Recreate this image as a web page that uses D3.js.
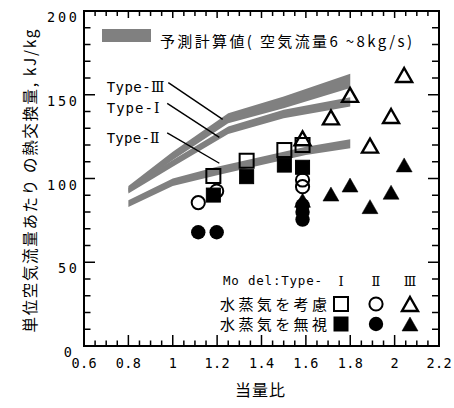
<!DOCTYPE html>
<html>
<head>
<meta charset="utf-8">
<script src="https://cdn.jsdelivr.net/npm/d3@7"></script>
<style>
  html, body { margin: 0; padding: 0; background: #fff; }
  svg { display: block; }
</style>
</head>
<body>
<svg id="chart" width="454" height="408"></svg>
<script>
// ---- data ----
const calcX = [0.8, 1.0, 1.25, 1.5, 1.8];
const calcIIIUpper = [95.5, 116, 139, 149, 162.5];
const calcIIILower = [92, 111, 133, 142, 154];
const calcIUpper = [94.5, 111, 131, 141, 148.5];
const calcILower = [91, 107, 126.5, 136, 143];
const calcIIx = [0.8, 1.0, 1.2, 1.4, 1.6, 1.8];
const calcIIUpper = [87, 100, 107, 113, 119, 123.5];
const calcIILower = [83, 95.5, 102, 108, 114, 118];

// Model Type-I (squares)
const typeIWithX = [1.183, 1.333, 1.503, 1.585];
const typeIWithY = [101.5, 110.6, 117, 120];
const typeIWithoutX = [1.183, 1.333, 1.503, 1.585];
const typeIWithoutY = [90.1, 101.1, 108, 106.7];
// Model Type-II (circles)
const typeIIWithX = [1.115, 1.198, 1.585, 1.585];
const typeIIWithY = [85.6, 92.5, 99.1, 95.1];
const typeIIWithoutX = [1.115, 1.198, 1.585, 1.585, 1.585];
const typeIIWithoutY = [67.9, 67.9, 84, 80, 75.5];
// Model Type-III (triangles)
const typeIIIWithX = [1.585, 1.713, 1.799, 1.889, 1.984, 2.043];
const typeIIIWithY = [124, 136.5, 149.9, 119.6, 137.3, 161.8];
const typeIIIWithoutX = [1.585, 1.713, 1.799, 1.889, 1.984, 2.043];
const typeIIIWithoutY = [87, 90.7, 96.1, 83.2, 91.8, 108.1];

const xTickValues = [0.6, 0.8, 1.0, 1.2, 1.4, 1.6, 1.8, 2.0, 2.2];
const xTickLabels = ["0.6", "0.8", "1", "1.2", "1.4", "1.6", "1.8", "2", "2.2"];
const yTickValues = [0, 50, 100, 150, 200];
const yTickLabels = ["0", "50", "100", "150", "200"];

const curvePrefix = "Type-";
const curveNumerals = ["Ⅲ", "Ⅰ", "Ⅱ"];
const curveLabelPos = [[0.702, 151.6], [0.702, 139.1], [0.702, 121.2]];
const leaderStart = [[0.98, 157.2], [0.975, 144.9], [0.975, 127.3]];
const leaderEnd = [[1.225, 135.3], [1.21, 124.6], [1.21, 109.1]];

const calcLegendText = "予測計算値( 空気流量6 ~8kg/s)";
const legendHeader = "Mo del:Type-";
const legendTypes = ["Ⅰ", "Ⅱ", "Ⅲ"];
const legendRows = ["水蒸気を考慮", "水蒸気を無視"];
const xTitle = "当量比";
const yTitle = "単位空気流量あたり の熱交換量, kJ/kg";

// ---- layout ----
const JP = "'Noto Sans CJK JP', sans-serif";
const MONO = "'DejaVu Sans Mono', monospace";
const ROMAN = "'DejaVu Serif', 'Liberation Serif', serif";
const GRAY = "#808080";
const plot = { left: 84, right: 439, top: 11, bottom: 346 };

const svg = d3.select("#chart");
const x = d3.scaleLinear().domain([0.6, 2.2]).range([plot.left, plot.right]);
const y = d3.scaleLinear().domain([0, 200]).range([plot.bottom, plot.top]);

// ---- computed bands ----
function band(xs, up, lo) {
  const pts = xs.map((v, i) => ({ x: v, up: up[i], lo: lo[i] }));
  return d3.area().x(d => x(d.x)).y0(d => y(d.lo)).y1(d => y(d.up))(pts);
}
const bandG = svg.append("g");
bandG.append("path").attr("d", band(calcIIx, calcIIUpper, calcIILower)).attr("fill", GRAY);
bandG.append("path").attr("d", band(calcX, calcIUpper, calcILower)).attr("fill", GRAY);
bandG.append("path").attr("d", band(calcX, calcIIIUpper, calcIIILower)).attr("fill", GRAY);

// ---- leader lines and curve labels ----
const ann = svg.append("g");
leaderStart.forEach((s, i) => {
  ann.append("line")
    .attr("x1", x(s[0])).attr("y1", y(s[1]))
    .attr("x2", x(leaderEnd[i][0])).attr("y2", y(leaderEnd[i][1]))
    .attr("stroke", "#000").attr("stroke-width", 1.4);
  const t = ann.append("text")
    .attr("x", x(curveLabelPos[i][0])).attr("y", y(curveLabelPos[i][1]))
    .attr("font-family", MONO).attr("font-size", 14)
    .attr("textLength", i === 0 ? 58 : 53).attr("lengthAdjust", "spacing");
  t.append("tspan").text(curvePrefix);
  t.append("tspan").attr("font-family", ROMAN).attr("font-size", 14).text(curveNumerals[i]);
});

// ---- markers ----
const mk = svg.append("g");
const SQ = 14, CR = 6.6, TW = 16, TH = 14;
function triPath(cx, cy) {
  return `M${cx},${cy - TH / 2}L${cx + TW / 2},${cy + TH / 2}L${cx - TW / 2},${cy + TH / 2}Z`;
}
function square(cx, cy, filled) {
  mk.append("rect")
    .attr("x", cx - SQ / 2).attr("y", cy - SQ / 2)
    .attr("width", SQ).attr("height", SQ)
    .attr("fill", filled ? "#000" : "none")
    .attr("stroke", "#000").attr("stroke-width", filled ? 1 : 2);
}
function circle(cx, cy, filled) {
  mk.append("circle").attr("cx", cx).attr("cy", cy).attr("r", filled ? CR + 0.6 : CR)
    .attr("fill", filled ? "#000" : "none")
    .attr("stroke", "#000").attr("stroke-width", filled ? 0 : 2);
}
function triangle(cx, cy, filled) {
  mk.append("path").attr("d", triPath(cx, cy))
    .attr("fill", filled ? "#000" : "none")
    .attr("stroke", "#000").attr("stroke-width", filled ? 0.5 : 2.4)
    .attr("stroke-linejoin", "miter");
}
typeIIWithoutX.forEach((v, i) => circle(x(v), y(typeIIWithoutY[i]), true));
typeIIIWithoutX.forEach((v, i) => triangle(x(v), y(typeIIIWithoutY[i]), true));
typeIWithoutX.forEach((v, i) => square(x(v), y(typeIWithoutY[i]), true));
typeIWithX.forEach((v, i) => square(x(v), y(typeIWithY[i]), false));
typeIIWithX.forEach((v, i) => circle(x(v), y(typeIIWithY[i]), false));
typeIIIWithX.forEach((v, i) => triangle(x(v), y(typeIIIWithY[i]), false));

// ---- frame and ticks ----
const ax = svg.append("g").attr("stroke", "#000");
ax.append("rect")
  .attr("x", plot.left).attr("y", plot.top)
  .attr("width", plot.right - plot.left).attr("height", plot.bottom - plot.top)
  .attr("fill", "none").attr("stroke-width", 2);

const xMinor = d3.range(0, 33).map(i => 0.6 + i * 0.05);
xMinor.forEach((v, i) => {
  const major = i % 4 === 0;
  ax.append("line").attr("x1", x(v)).attr("x2", x(v))
    .attr("y1", plot.bottom).attr("y2", plot.bottom - (major ? 11 : 5.5)).attr("stroke-width", 1.5);
  ax.append("line").attr("x1", x(v)).attr("x2", x(v))
    .attr("y1", plot.top).attr("y2", plot.top + (major ? 7 : 5)).attr("stroke-width", 1.5);
});
const yMinor = d3.range(0, 21).map(i => i * 10);
yMinor.forEach((v, i) => {
  const major = i % 5 === 0;
  ax.append("line").attr("y1", y(v)).attr("y2", y(v))
    .attr("x1", plot.left).attr("x2", plot.left + (major ? 11 : 6.5)).attr("stroke-width", 1.5);
  ax.append("line").attr("y1", y(v)).attr("y2", y(v))
    .attr("x1", plot.right).attr("x2", plot.right - (major ? 11 : 7)).attr("stroke-width", 1.5);
});

// ---- tick labels ----
const lab = svg.append("g").attr("font-family", MONO).attr("font-size", 13.5).attr("fill", "#000");
xTickValues.forEach((v, i) => {
  const s = xTickLabels[i];
  lab.append("text").attr("x", x(v)).attr("y", 368)
    .attr("text-anchor", "middle")
    .attr("textLength", s.length === 1 ? null : s.length * 8.4)
    .attr("lengthAdjust", "spacing")
    .text(s);
});
yTickValues.forEach((v, i) => {
  const s = yTickLabels[i];
  const t = lab.append("text")
    .attr("x", v === 0 ? 72 : 77).attr("y", y(v) + 11)
    .attr("text-anchor", "end")
    .text(s);
  if (s.length > 1) t.attr("textLength", s.length * 10.8 - 2.5).attr("lengthAdjust", "spacing");
});

// ---- axis titles ----
svg.append("text").attr("x", 260).attr("y", 396)
  .attr("text-anchor", "middle").attr("font-family", JP).attr("font-size", 16)
  .attr("textLength", 50).attr("lengthAdjust", "spacing")
  .text(xTitle);
svg.append("text")
  .attr("transform", "translate(36,181) rotate(-90)")
  .attr("text-anchor", "middle").attr("font-family", JP).attr("font-size", 15.5)
  .attr("textLength", 303).attr("lengthAdjust", "spacing")
  .text(yTitle);

// ---- legend: computed band ----
svg.append("rect").attr("x", 102).attr("y", 29).attr("width", 49).attr("height", 13).attr("fill", GRAY);
svg.append("text").attr("x", 160).attr("y", 47)
  .attr("font-family", JP).attr("font-size", 15)
  .attr("textLength", 252).attr("lengthAdjust", "spacing")
  .text(calcLegendText);

// ---- legend: measured models ----
const leg = svg.append("g");
leg.append("text").attr("x", 223).attr("y", 285)
  .attr("font-family", MONO).attr("font-size", 12.5)
  .attr("textLength", 99).attr("lengthAdjust", "spacing")
  .text(legendHeader);
const legX = [341, 376, 410];
legendTypes.forEach((s, i) => {
  leg.append("text").attr("x", legX[i]).attr("y", 285.5)
    .attr("text-anchor", "middle").attr("font-family", ROMAN).attr("font-size", 13)
    .text(s);
});
const rowY = [304, 324];
legendRows.forEach((s, r) => {
  leg.append("text").attr("x", 220).attr("y", rowY[r] + 6)
    .attr("font-family", JP).attr("font-size", 15)
    .attr("textLength", 107).attr("lengthAdjust", "spacing")
    .text(s);
});
square(legX[0], rowY[0], false);
circle(legX[1], rowY[0], false);
triangle(legX[2], rowY[0], false);
square(legX[0], rowY[1], true);
circle(legX[1], rowY[1], true);
triangle(legX[2], rowY[1], true);
</script>
</body>
</html>
